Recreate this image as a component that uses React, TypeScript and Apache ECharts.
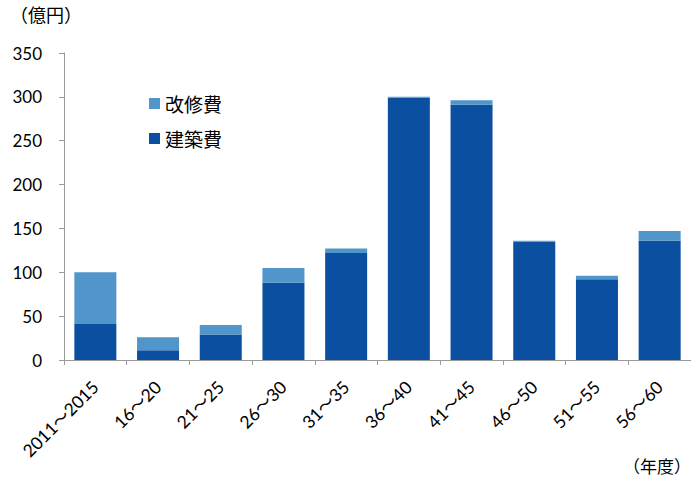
import React, { useEffect, useRef } from "react";
import * as echarts from "echarts";

const categories = ["2011～2015", "16～20", "21～25", "26～30", "31～35", "36～40", "41～45", "46～50", "51～55", "56～60"];
const constructionCost = [41, 11, 29, 88, 122, 299, 291, 135, 92, 136];
const renovationCost = [59, 15, 11, 17, 5, 1, 5, 1, 4, 11];
const yTicks = { min: 0, max: 350, interval: 50 };

const DARK = "#0B50A0";
const LIGHT = "#5096CB";
const AXIS = "#9A9A9A";
const FONT = "Lato, 'Noto Sans CJK JP', sans-serif";
const CJK = "'Noto Sans CJK JP', sans-serif";

export default function App() {
  const ref = useRef<HTMLDivElement>(null);
  useEffect(() => {
    if (!ref.current) return;
    const chart = echarts.init(ref.current, undefined, { renderer: "svg" });
    chart.setOption({
      animation: false,
      backgroundColor: "#ffffff",
      grid: { left: 64, right: -3, top: 53, bottom: 119, containLabel: false },
      legend: {
        orient: "vertical",
        left: 149,
        top: 94,
        padding: 0,
        itemWidth: 11,
        itemHeight: 11,
        itemGap: 16,
        icon: "rect",
        data: ["改修費", "建築費"],
        textStyle: { fontFamily: CJK, fontSize: 19, color: "#000" },
      },
      graphic: [
        { type: "text", left: 10, top: 5, style: { text: "（億円）", font: `18px ${CJK}`, fill: "#000" } },
        { type: "text", right: 0, top: 457, style: { text: "（年度）", font: `17px ${CJK}`, fill: "#000" } },
      ],
      xAxis: {
        type: "category",
        data: categories,
        axisLine: { lineStyle: { color: AXIS, width: 1 } },
        axisTick: { show: true, length: 5, lineStyle: { color: AXIS } },
        axisLabel: { rotate: 45, margin: 24, fontSize: 17.5, fontFamily: FONT, color: "#000", interval: 0 },
      },
      yAxis: {
        type: "value",
        min: yTicks.min,
        max: yTicks.max,
        interval: yTicks.interval,
        splitLine: { show: false },
        axisLine: { show: true, lineStyle: { color: AXIS, width: 1 } },
        axisTick: { show: true, length: 5, lineStyle: { color: AXIS } },
        axisLabel: { margin: 22, fontSize: 17, fontFamily: FONT, color: "#000" },
      },
      series: [
        {
          name: "建築費",
          type: "bar",
          stack: "total",
          data: constructionCost,
          barCategoryGap: "33%",
          itemStyle: { color: DARK },
        },
        {
          name: "改修費",
          type: "bar",
          stack: "total",
          data: renovationCost,
          barCategoryGap: "33%",
          itemStyle: { color: LIGHT },
        },
      ],
    });
    return () => chart.dispose();
  }, []);
  return <div ref={ref} style={{ position: "fixed", left: 0, top: 0, width: 691, height: 479 }} />;
}
